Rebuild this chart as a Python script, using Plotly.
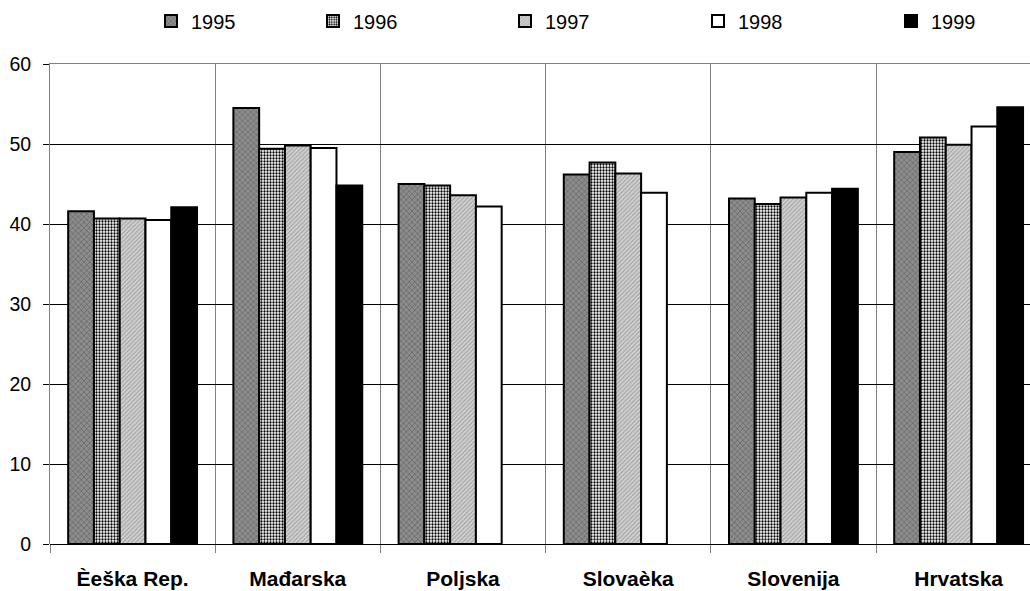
import plotly.graph_objects as go

# Categories and yearly values
countries = ["Èeška Rep.", "Mađarska", "Poljska", "Slovaèka", "Slovenija", "Hrvatska"]
years = ["1995", "1996", "1997", "1998", "1999"]

v1995 = [41.6, 54.5, 45.0, 46.2, 43.2, 49.0]
v1996 = [40.7, 49.4, 44.8, 47.7, 42.5, 50.8]
v1997 = [40.7, 49.8, 43.6, 46.3, 43.3, 49.9]
v1998 = [40.5, 49.5, 42.2, 43.9, 43.9, 52.2]
v1999 = [42.1, 44.8, None, None, 44.4, 54.6]

y_ticks = [0, 10, 20, 30, 40, 50, 60]

series = [v1995, v1996, v1997, v1998, v1999]
x_pos = list(range(len(countries)))

# Fill styles per year
fills = [
    dict(color="#8a8a8a", pattern=dict(shape="x", bgcolor="#8c8c8c", fgcolor="#5a5a5a",
                                        size=4, solidity=0.25, fillmode="replace")),
    dict(color="#ffffff", pattern=dict(shape=".", bgcolor="#ffffff", fgcolor="#000000",
                                        size=3, solidity=0.45, fillmode="replace")),
    dict(color="#c8c8c8", pattern=dict(shape="/", bgcolor="#d0d0d0", fgcolor="#9a9a9a",
                                        size=3, solidity=0.3, fillmode="replace")),
    dict(color="#ffffff"),
    dict(color="#000000"),
]

legend_names = ["legend", "legend2", "legend3", "legend4", "legend5"]
legend_left = [151, 313, 505, 698, 891]

fig = go.Figure()
for name, vals, fill, lg in zip(years, series, fills, legend_names):
    fig.add_trace(go.Bar(
        x=x_pos, y=vals, name=name, legend=lg,
        marker=dict(line=dict(color="#000000", width=2), **fill),
    ))

font_main = dict(family="Liberation Sans, Arial, sans-serif", size=20, color="#000000")

legend_cfg = {}
for lg, left in zip(legend_names, legend_left):
    legend_cfg[lg] = dict(
        x=left / 1030, y=1 - 21 / 591, xref="container", yref="container",
        xanchor="left", yanchor="middle", orientation="h",
        bgcolor="rgba(0,0,0,0)", borderwidth=0, font=font_main,
    )

boundaries = [i - 0.5 for i in range(len(countries) + 1)]

fig.update_layout(
    width=1030, height=591,
    margin=dict(l=50, r=0, t=64, b=47),
    paper_bgcolor="#ffffff", plot_bgcolor="#ffffff",
    barmode="group", bargap=0.22, bargroupgap=0,
    font=font_main,
    showlegend=True,
    **legend_cfg,
    xaxis=dict(
        range=[-0.5, 5.432], tickvals=x_pos, ticktext=countries,
        ticks="", showgrid=False, zeroline=False, showline=False,
        tickfont=dict(family="Liberation Sans, Arial, sans-serif", size=21,
                      color="#000000", weight="bold"),
        ticklabelstandoff=20,
        minor=dict(tickvals=boundaries, showgrid=True, gridcolor="#808080", gridwidth=1,
                   ticks="outside", ticklen=8, tickcolor="#808080", tickwidth=1),
    ),
    xaxis2=dict(
        overlaying="x", side="top", matches="x", showline=True, linecolor="#808080",
        linewidth=1, showticklabels=False, ticks="", showgrid=False, zeroline=False,
    ),
    yaxis=dict(
        range=[0, 60], tickvals=y_ticks, showgrid=True, gridcolor="#000000", gridwidth=1,
        zeroline=True, zerolinecolor="#000000", zerolinewidth=1,
        showline=True, linecolor="#808080", linewidth=1,
        ticks="outside", ticklen=6, tickcolor="#000000", tickwidth=1,
        ticklabelstandoff=8, tickfont=dict(size=19.5),
    ),
)

# Empty trace to anchor the top border axis
fig.add_trace(go.Scatter(x=[], y=[], xaxis="x2", showlegend=False, hoverinfo="skip"))

fig.write_html("out.html")
